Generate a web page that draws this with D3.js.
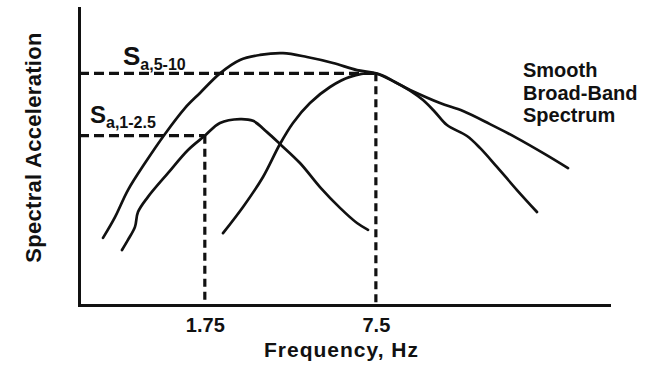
<!DOCTYPE html>
<html>
<head>
<meta charset="utf-8">
<script src="https://cdn.jsdelivr.net/npm/d3@7"></script>
<style>
  html, body { margin: 0; padding: 0; background: #fff; }
  svg { display: block; }
  text { font-family: "Liberation Sans", Arial, Helvetica, sans-serif; fill: #111; }
</style>
</head>
<body>
<svg id="chart" width="647" height="368"></svg>
<script>
// Frequency (Hz) and relative spectral acceleration for each spectrum
const broadHz = [0.736, 0.815, 0.910, 1.052, 1.247, 1.478, 1.680, 1.991, 2.361, 2.799, 3.403, 4.174, 5.208, 6.387, 7.5, 10.03, 12.94, 15.74, 19.80, 24.91, 31.61, 38.45];
const broadSa = [22.6, 29.6, 38.7, 47.8, 57.6, 66.3, 71.4, 78.0, 82.5, 84.2, 84.8, 83.5, 81.5, 79.1, 78.0, 72.4, 68.0, 65.3, 60.9, 56.2, 50.8, 46.1];

const lowHz = [0.865, 0.910, 0.966, 0.991, 1.079, 1.279, 1.517, 1.75, 1.991, 2.361, 2.637, 2.971, 3.317, 3.932, 4.662, 5.526, 6.387, 7.015];
const lowSa = [18.5, 21.9, 26.3, 31.3, 36.4, 44.4, 52.2, 57.0, 61.3, 62.6, 62.0, 58.2, 54.2, 47.8, 39.7, 32.7, 27.6, 25.3];

const highHz = [2.043, 2.422, 2.871, 3.317, 3.705, 4.282, 5.076, 6.017, 7.5, 8.826, 10.03, 11.20, 12.40, 13.73, 16.28, 18.18, 21.01, 24.91, 29.53];
const highSa = [24.2, 33.0, 43.1, 54.2, 61.3, 68.0, 73.4, 76.8, 78.0, 75.1, 72.2, 69.0, 65.0, 60.6, 56.9, 52.9, 46.5, 38.7, 31.3];

const levelHz = [1.75, 7.5];
const levelSa = [57, 78];
const levelSub = ["a,1-2.5", "a,5-10"];

const freqTicks = [1.75, 7.5];
const tickText = ["1.75", "7.5"];

const svg = d3.select("#chart");
const x = d3.scaleLog().domain([0.6, 54.5]).range([79, 609]);
const y = d3.scaleLinear().domain([0, 100]).range([305, 8]);

const ink = "#111";

// Dashed guides from each band level to both axes
const guides = svg.append("g")
  .attr("fill", "none")
  .attr("stroke", ink)
  .attr("stroke-width", 3.2);
levelHz.forEach((f, i) => {
  guides.append("line")
    .attr("x1", x.range()[0]).attr("x2", x(f))
    .attr("y1", y(levelSa[i])).attr("y2", y(levelSa[i]))
    .attr("stroke-dasharray", "10,5");
  guides.append("line")
    .attr("x1", x(f)).attr("x2", x(f))
    .attr("y1", y(levelSa[i])).attr("y2", y(0))
    .attr("stroke-dasharray", "8,5");
});

// Spectrum curves
const line = d3.line()
  .x(d => x(d[0]))
  .y(d => y(d[1]))
  .curve(d3.curveCatmullRom.alpha(0.5));

[[broadHz, broadSa], [lowHz, lowSa], [highHz, highSa]].forEach(([fs, vs]) => {
  svg.append("path")
    .datum(fs.map((f, i) => [f, vs[i]]))
    .attr("fill", "none")
    .attr("stroke", ink)
    .attr("stroke-width", 2.7)
    .attr("stroke-linecap", "round")
    .attr("stroke-linejoin", "round")
    .attr("d", line);
});

// Axes
const xAxis = svg.append("g")
  .attr("transform", `translate(0,${y(0)})`)
  .call(d3.axisBottom(x)
    .tickValues(freqTicks)
    .tickFormat((d, i) => tickText[i])
    .tickSize(0)
    .tickPadding(13));
const yAxis = svg.append("g")
  .attr("transform", `translate(${x.range()[0]},0)`)
  .call(d3.axisLeft(y).tickValues([]).tickSize(0));

[xAxis, yAxis].forEach(g => {
  g.select(".domain")
    .attr("stroke", ink)
    .attr("stroke-width", 3)
    .attr("stroke-linecap", "square");
});
xAxis.selectAll(".tick text")
  .attr("fill", ink)
  .style("font-family", '"Liberation Sans", Arial, sans-serif')
  .style("font-size", "20px")
  .style("font-weight", "bold");

// Axis titles
svg.append("text")
  .attr("x", 341.5)
  .attr("y", 357)
  .attr("text-anchor", "middle")
  .style("font-size", "21px")
  .style("font-weight", "bold")
  .style("letter-spacing", "1px")
  .text("Frequency, Hz");

svg.append("text")
  .attr("transform", "translate(41,147.5) rotate(-90)")
  .attr("text-anchor", "middle")
  .style("font-size", "22px")
  .style("font-weight", "bold")
  .style("letter-spacing", "0.3px")
  .text("Spectral Acceleration");

// Band level labels S with subscripts
const labelPos = [
  { dx: 11, dy: -13, size: 24 },
  { dx: 44, dy: -8.5, size: 26 }
];
levelSa.forEach((v, i) => {
  const t = svg.append("text")
    .attr("x", x.range()[0] + labelPos[i].dx)
    .attr("y", y(v) + labelPos[i].dy)
    .style("font-weight", "bold");
  t.append("tspan")
    .style("font-size", labelPos[i].size + "px")
    .text("S");
  t.append("tspan")
    .attr("dy", 5.5)
    .style("font-size", "16px")
    .text(levelSub[i]);
});

// Curve name
const nameLines = ["Smooth", "Broad-Band", "Spectrum"];
const nameBase = [77, 100, 122];
svg.append("g")
  .selectAll("text")
  .data(nameLines)
  .join("text")
  .attr("x", 523)
  .attr("y", (d, i) => nameBase[i])
  .style("font-size", "20px")
  .style("font-weight", "bold")
  .text(d => d);
</script>
</body>
</html>
